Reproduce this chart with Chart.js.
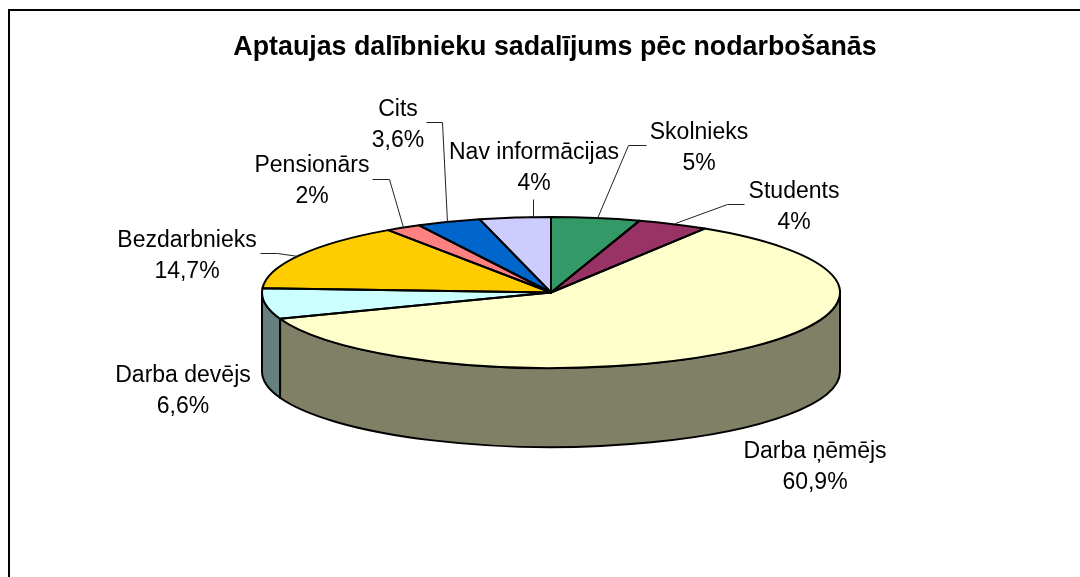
<!DOCTYPE html>
<html><head><meta charset="utf-8">
<style>html,body{margin:0;padding:0;background:#fff;overflow:hidden}#w{width:1080px;height:577px;position:relative}</style>
<script src="https://cdn.jsdelivr.net/npm/chart.js@4"></script>
</head><body><div id="w"><canvas id="c" width="1080" height="577"></canvas></div>
<script>
const chartTitle = "Aptaujas dalībnieku sadalījums pēc nodarbošanās";
const categories = ["Skolnieks","Students","Darba ņēmējs","Darba devējs","Bezdarbnieks","Pensionārs","Cits","Nav informācijas"];
const values = [5,4,60.9,6.6,14.7,2,3.6,4];
const valueLabels = ["5%","4%","60,9%","6,6%","14,7%","2%","3,6%","4%"];
const topColors = ["#339966","#993366","#FFFFCC","#CCFFFF","#FFCC00","#FF8080","#0066CC","#CCCCFF"];
const sideColors = ["#1f5c3d","#5c1f3d","#808066","#668080","#806600","#804040","#003366","#666680"];
// label centre (x, baseline of first line) and leader polyline
const labelPlace = [
 {x:699,y:139,lead:[[646,145],[628,145],[597,218]]},
 {x:794,y:198,lead:[[744,204],[727,204],[675,223]]},
 {x:815,y:458,lead:null},
 {x:183,y:382,lead:null},
 {x:187,y:247,lead:[[260,253],[277,253],[298,256]]},
 {x:312,y:172,lead:[[372,179],[389,179],[403,227]]},
 {x:398,y:116,lead:[[426,122],[442,122],[447,222]]},
 {x:534,y:159,lead:[[533,199],[533,216],[525,217]]}
];
const KY = 75.5/289, DEPTH = 79, CY = 292.5;

const pie3d = {
  id:'pie3d',
  beforeDatasetsDraw(chart){
    const ctx = chart.ctx, arcs = chart.getDatasetMeta(0).data;
    const a0 = arcs[0], cx = a0.x, R = a0.outerRadius, ry = R*KY;
    // side wall, from the library's arc angles
    ctx.save();
    ctx.lineWidth = 2; ctx.strokeStyle = '#000'; ctx.lineJoin='round';
    arcs.forEach((a,i)=>{
      const lo = Math.max(a.startAngle,0), hi = Math.min(a.endAngle,Math.PI);
      if(hi<=lo) return;
      ctx.beginPath();
      ctx.ellipse(cx,CY,R,ry,0,lo,hi,false);
      ctx.lineTo(cx+R*Math.cos(hi),CY+ry*Math.sin(hi)+DEPTH);
      ctx.ellipse(cx,CY+DEPTH,R,ry,0,hi,lo,true);
      ctx.closePath();
      ctx.fillStyle = sideColors[i]; ctx.fill(); ctx.stroke();
    });
    ctx.restore();
    // squash the library's arcs to the tilted plane
    ctx.save();
    ctx.translate(cx,CY); ctx.scale(1,KY); ctx.translate(-a0.x,-a0.y);
  },
  afterDatasetsDraw(chart){
    const ctx = chart.ctx, arcs = chart.getDatasetMeta(0).data;
    ctx.restore();
    const a0 = arcs[0], cx = a0.x, R = a0.outerRadius, ry = R*KY;
    ctx.save();
    ctx.lineWidth = 2; ctx.strokeStyle = '#000'; ctx.lineJoin='round';
    arcs.forEach(a=>{
      ctx.beginPath();
      ctx.moveTo(cx,CY);
      ctx.ellipse(cx,CY,R,ry,0,a.startAngle,a.endAngle,false);
      ctx.closePath(); ctx.stroke();
    });
    // leaders
    ctx.lineWidth = 1; ctx.strokeStyle = '#222';
    labelPlace.forEach(p=>{
      if(!p.lead) return;
      ctx.beginPath();
      p.lead.forEach((q,j)=> j?ctx.lineTo(q[0]+.5,q[1]+.5):ctx.moveTo(q[0]+.5,q[1]+.5));
      ctx.stroke();
    });
    // labels
    ctx.fillStyle='#000'; ctx.font='23px "Liberation Sans", Arial, sans-serif';
    ctx.textAlign='center'; ctx.textBaseline='alphabetic';
    categories.forEach((c,i)=>{
      const p = labelPlace[i];
      ctx.fillText(c,p.x,p.y);
      ctx.fillText(valueLabels[i],p.x,p.y+30.5);
    });
    ctx.restore();
  },
  beforeDraw(chart){
    const ctx = chart.ctx;
    ctx.save();
    ctx.fillStyle='#fff'; ctx.fillRect(0,0,1080,577);
    ctx.fillStyle='#000';
    ctx.fillRect(8,9,1072,2);
    ctx.fillRect(8,9,2,568);
    ctx.restore();
  }
};

new Chart(document.getElementById('c'),{
  type:'pie',
  data:{labels:categories,datasets:[{data:values,backgroundColor:topColors,borderWidth:0,radius:289}]},
  options:{
    responsive:false,animation:false,
    layout:{padding:{left:22,top:8,right:0,bottom:0}},
    plugins:{legend:{display:false},tooltip:{enabled:false},title:{display:false}}
  },
  plugins:[pie3d,{id:'ttl',afterDraw(chart){
    const ctx=chart.ctx;ctx.save();ctx.fillStyle='#000';ctx.font='bold 26.8px "Liberation Sans", Arial, sans-serif';
    ctx.textAlign='center';ctx.fillText(chartTitle,555,55);ctx.restore();
  }}]
});
</script></body></html>
